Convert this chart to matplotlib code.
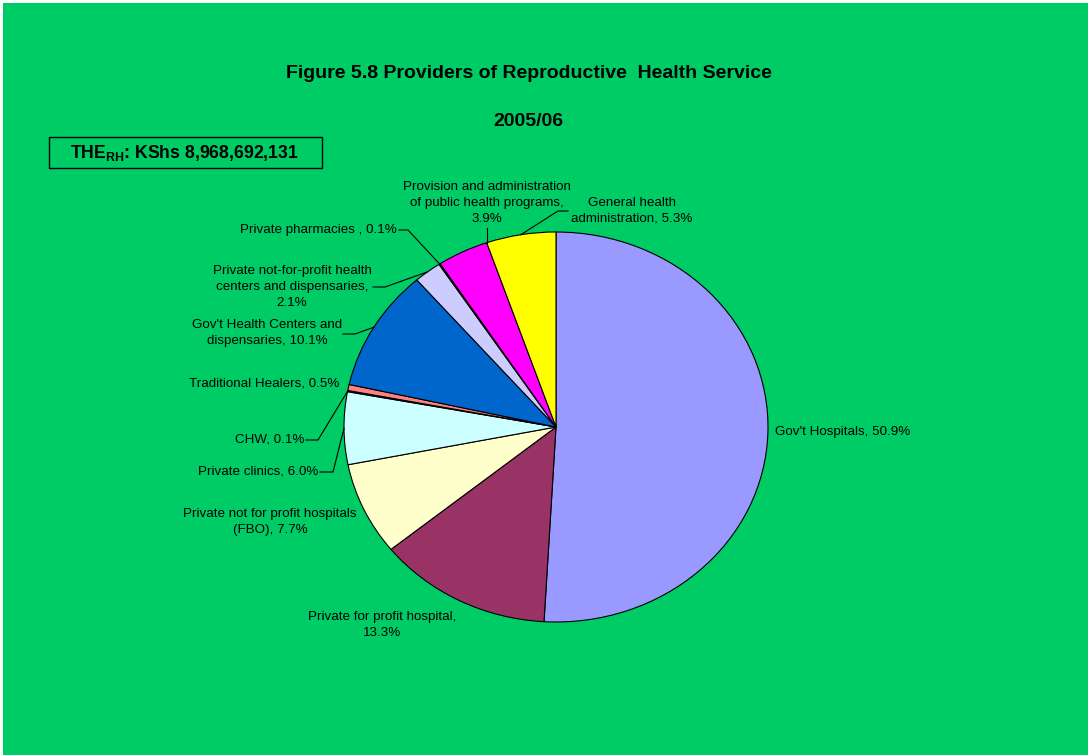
import numpy as np
import matplotlib
matplotlib.use('Agg')
from matplotlib import pyplot as plt
from matplotlib.patches import Rectangle

plt.rcParams['font.family'] = ['Liberation Sans', 'DejaVu Sans']
plt.rcParams['mathtext.fontset'] = 'custom'
plt.rcParams['mathtext.rm'] = 'Liberation Sans'
plt.rcParams['mathtext.bf'] = 'Liberation Sans:bold'

# data (clockwise from 12 o'clock)
labels = ["Gov't Hospitals", "Private for profit hospital",
          "Private not for profit hospitals\n(FBO)", "Private clinics", "CHW",
          "Traditional Healers", "Gov't Health Centers and\ndispensaries",
          "Private not-for-profit health\ncenters and dispensaries",
          "Private pharmacies ", "Provision and administration\nof public health programs",
          "General health\nadministration"]
shares = [50.9, 13.3, 7.7, 6.0, 0.1, 0.5, 10.1, 2.1, 0.1, 3.9, 5.3]
colors = ['#9999FF', '#993366', '#FFFFCC', '#CCFFFF', '#660066', '#FF8080',
          '#0066CC', '#CCCCFF', '#000080', '#FF00FF', '#FFFF00']
label_sep = [', ', ',\n', ', ', ', ', ', ', ', ', ', ', ',\n', ', ', ',\n', ', ']

W, H = 1089, 756
cx, cy, rx, ry = 556, 427, 212, 195

fig = plt.figure(figsize=(W / 100, H / 100), dpi=100)
fig.patch.set_facecolor('white')
fig.add_artist(Rectangle((3 / W, 1 / H), (W - 4) / W, (H - 4) / H,
                         transform=fig.transFigure, facecolor='#00CC66', edgecolor='none', zorder=0))

ax = fig.add_axes([(cx - rx) / W, (H - cy - ry) / H, 2 * rx / W, 2 * ry / H])
ax.pie(shares, colors=colors, startangle=90, counterclock=False,
       wedgeprops=dict(edgecolor='black', linewidth=0.8))
ax.set_aspect('auto')
ax.set_xlim(-1, 1)
ax.set_ylim(-1, 1)
ax.axis('off')


def p2d(x, y):
    return (x - cx) / rx, (cy - y) / ry


# label layout in pixels: (x, y, ha, leader start, leader elbow)
layout = [
    (775, 432, 'left', None, None),
    (382, 625, 'center', None, None),
    (270, 522, 'center', None, None),
    (318, 472, 'right', (320, 472), (333, 472)),
    (304, 440, 'right', (306, 440), (318, 440)),
    (339, 384, 'right', None, None),
    (267, 333, 'center', (343, 334), (355, 334)),
    (292, 287, 'center', (373, 287), (385, 287)),
    (397, 230, 'right', (399, 230), (408, 230)),
    (487, 203, 'center', (487, 228), (487, 230)),
    (632, 211, 'center', (568, 211), (558, 211)),
]

cum = np.cumsum([0] + shares[:-1])
for i, (lab, v) in enumerate(zip(labels, shares)):
    x, y, ha, p0, p1 = layout[i]
    tx, ty = p2d(x, y)
    ax.text(tx, ty, f"{lab}{label_sep[i]}{v:.1f}%", ha=ha, va='center', multialignment='center',
            fontsize=9.6, linespacing=1.42, clip_on=False)
    if p0 is not None:
        ang = np.deg2rad(90 - 360 * (cum[i] + v / 2) / 100)
        ex, ey = np.cos(ang), np.sin(ang)
        a0 = p2d(*p0)
        a1 = p2d(*p1)
        if i == 9:
            ex = a1[0]
            ey = np.sqrt(1 - ex ** 2)
        ax.plot([a0[0], a1[0], ex], [a0[1], a1[1], ey], color='black', lw=0.8, clip_on=False)

fig.text(529 / W, 1 - 73 / H, "Figure 5.8 Providers of Reproductive  Health Service",
         ha='center', va='center', fontsize=14, fontweight='bold')
fig.text(528 / W, 1 - 122 / H, "2005/06", ha='center', va='center', fontsize=14, fontweight='bold')

fig.add_artist(Rectangle((49 / W, 1 - 168 / H), 273 / W, 31 / H, transform=fig.transFigure,
                         facecolor='none', edgecolor='black', linewidth=1))
fig.text(184 / W, 1 - 153 / H, r"THE$_{\mathbf{RH}}$: KShs 8,968,692,131",
         ha='center', va='center', fontsize=12.7, fontweight='bold')

fig.savefig('out.png', dpi=100, facecolor=fig.get_facecolor())
